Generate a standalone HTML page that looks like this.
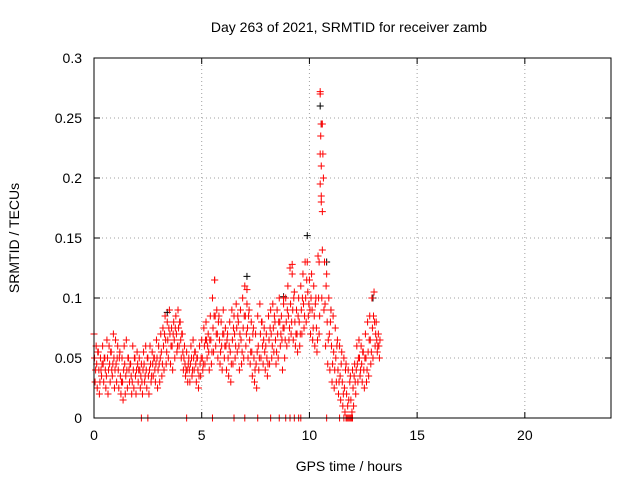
<!DOCTYPE html>
<html><head><meta charset="utf-8"><style>
body{margin:0;background:#fff}
svg{display:block;font-family:"Liberation Sans",sans-serif;font-size:14px}
</style></head><body>
<svg id="chart" width="640" height="480">
<rect x="0" y="0" width="640" height="480" fill="#fff"/>
<text x="349" y="32" text-anchor="middle">Day 263 of 2021, SRMTID for receiver zamb</text>
<text x="349" y="471" text-anchor="middle">GPS time / hours</text>
<text transform="translate(19,238) rotate(-90)" text-anchor="middle">SRMTID / TECUs</text>
<g id="grid"></g>
<g id="ticks"></g>
<g id="marks"></g>
<rect x="94" y="58" width="517" height="360" fill="none" stroke="#000" stroke-width="1"/>
</svg>
<script>
const xTicks=[0,5,10,15,20];
const yTicks=[0,0.05,0.1,0.15,0.2,0.25,0.3];
const yTickLabels=["0","0.05","0.1","0.15","0.2","0.25","0.3"];
const times=[];for(let i=0;i<=132;i++)times.push(+(i*0.1).toFixed(1));
const valsA=[0.07,0.06,0.055,0.05,0.06,0.05,0.065,0.06,0.055,0.07,0.065,
0.06,0.055,0.05,0.06,0.065,0.05,0.045,0.06,0.05,0.055,
0.05,0.045,0.055,0.06,0.05,0.06,0.055,0.05,0.065,0.06,
0.07,0.075,0.085,0.08,0.09,0.075,0.08,0.085,0.09,0.08,
0.07,0.06,0.055,0.05,0.06,0.065,0.055,0.05,0.06,0.065,
0.075,0.08,0.07,0.085,0.1,0.115,0.09,0.085,0.08,0.09,
0.075,0.07,0.08,0.09,0.085,0.095,0.08,0.09,0.1,0.11,
0.095,0.09,0.08,0.075,0.07,0.085,0.095,0.08,0.075,0.07,
0.085,0.09,0.095,0.08,0.09,0.1,0.085,0.095,0.1,0.11,
0.125,0.12,0.105,0.09,0.1,0.11,0.12,0.13,0.13,0.115,
0.12,0.11,0.1,0.135,0.27,0.245,0.13,0.12,0.1,0.09,
0.085,0.075,0.065,0.06,0.055,0.05,0.045,0.04,0.035,0.04,
0.045,0.06,0.065,0.06,0.055,0.07,0.08,0.085,0.1,0.105,
0.08,0.07];
const valsB=[0.03,0.025,0.02,0.035,0.03,0.025,0.02,0.03,0.035,0.025,0.03,
0.025,0.02,0.015,0.02,0.025,0.03,0.02,0.025,0.02,0.03,
0.025,0.02,0.03,0.025,0.02,0.03,0.035,0.03,0.025,0.03,
0.035,0.04,0.045,0.05,0.045,0.04,0.05,0.055,0.06,0.05,
0.04,0.035,0.03,0.03,0.035,0.04,0.03,0.025,0.035,0.04,
0.045,0.05,0.04,0.045,0.055,0.06,0.05,0.045,0.04,0.05,
0.04,0.035,0.03,0.045,0.05,0.055,0.04,0.045,0.05,0.06,
0.05,0.045,0.035,0.03,0.025,0.04,0.05,0.045,0.04,0.035,
0.045,0.05,0.055,0.045,0.05,0.06,0.04,0.05,0.06,0.065,
0.07,0.065,0.06,0.055,0.06,0.07,0.075,0.08,0.085,0.07,
0.065,0.06,0.055,0.07,0.18,0.2,0.06,0.045,0.04,0.03,
0.025,0.03,0.02,0.015,0.01,0.005,0,0,0,0.01,
0.02,0.03,0.035,0.03,0.025,0.03,0.035,0.045,0.05,0.06,
0.055,0.05];
const valsC=[0.05,0.045,0.04,0.04,0.045,0.04,0.05,0.045,0.04,0.05,0.045,
0.04,0.035,0.03,0.045,0.04,0.04,0.035,0.04,0.035,0.045,
0.04,0.03,0.045,0.04,0.035,0.045,0.045,0.04,0.05,0.045,
0.055,0.06,0.065,0.065,0.07,0.06,0.065,0.07,0.075,0.065,
0.055,0.045,0.04,0.04,0.05,0.05,0.045,0.04,0.045,0.05,
0.06,0.065,0.055,0.065,0.075,0.085,0.07,0.065,0.06,0.07,
0.06,0.05,0.055,0.065,0.07,0.075,0.06,0.065,0.075,0.085,
0.075,0.065,0.055,0.05,0.045,0.06,0.07,0.06,0.055,0.05,
0.065,0.07,0.075,0.065,0.07,0.08,0.065,0.075,0.08,0.085,
0.095,0.09,0.08,0.07,0.08,0.09,0.095,0.1,0.105,0.09,
0.09,0.085,0.075,0.1,0.235,0.22,0.095,0.08,0.07,0.06,
0.055,0.05,0.04,0.035,0.03,0.025,0.02,0.015,0.015,0.025,
0.03,0.045,0.05,0.045,0.04,0.05,0.055,0.065,0.075,0.08,
0.065,0.06];
const valsD=[0.04,0.055,0.03,0.045,0.05,0.035,0.04,0.055,0.045,0.04,0.05,
0.05,0.03,0.04,0.035,0.05,0.045,0.03,0.05,0.04,0.04,
0.035,0.04,0.035,0.05,0.04,0.035,0.05,0.045,0.04,0.05,
0.045,0.07,0.055,0.075,0.06,0.07,0.075,0.06,0.08,0.07,
0.05,0.04,0.045,0.045,0.04,0.055,0.05,0.035,0.05,0.045,
0.065,0.06,0.065,0.055,0.085,0.07,0.08,0.055,0.07,0.06,
0.065,0.06,0.045,0.075,0.06,0.085,0.07,0.055,0.085,0.07,
0.085,0.055,0.07,0.04,0.055,0.05,0.08,0.065,0.06,0.045,
0.075,0.06,0.085,0.055,0.08,0.07,0.075,0.065,0.09,0.075,
0.08,0.1,0.07,0.085,0.07,0.1,0.085,0.115,0.095,0.1,
0.075,0.095,0.065,0.085,0.1,0.09,0.11,0.065,0.08,0.045,
0.04,0.06,0.03,0.045,0.02,0.04,0.01,0.03,0.005,0.035,
0.04,0.05,0.04,0.055,0.05,0.04,0.065,0.055,0.085,0.07,
0.06,0.065];
const zeroTimes=[2.2,2.5,4.3,5.5,6.5,7.0,7.6,8.2,8.6,8.9,9.1,9.3,9.5,9.6,10.8,11.4,11.6,11.7,11.8,11.9,12.0];
const extraT=[10.5,10.55,10.5,10.55,10.5,10.55,10.6,10.6,10.45,7.1,5.6,8.8,9.2];
const extraV=[0.272,0.245,0.22,0.21,0.195,0.185,0.172,0.14,0.13,0.107,0.115,0.1,0.128];
const blackT=[9.9,10.5,10.55,10.8,7.1,12.95,3.4,8.8,11.0];
const blackV=[0.152,0.26,0.245,0.13,0.118,0.1,0.088,0.101,0.09];

const X0=94,X1=611,Y0=418,Y1=58;
const sx=t=>X0+t/24*(X1-X0);
const sy=v=>Y0-v/0.3*(Y0-Y1);
const NS="http://www.w3.org/2000/svg";
const grid=document.getElementById('grid'),ticks=document.getElementById('ticks'),marks=document.getElementById('marks');
function mk(tag,attrs,parent){const e=document.createElementNS(NS,tag);for(const k in attrs)e.setAttribute(k,attrs[k]);parent.appendChild(e);return e;}
xTicks.forEach(t=>{const x=sx(t);
 if(t>0){const l=mk('line',{x1:x,x2:x,y1:Y0,y2:Y1,stroke:'#a0a0a0','stroke-dasharray':'1,3'},grid);
 
 }
 mk('line',{x1:x,x2:x,y1:Y0,y2:Y0-6,stroke:'#000'},ticks);
 mk('line',{x1:x,x2:x,y1:Y1,y2:Y1+6,stroke:'#000'},ticks);
 const tx=mk('text',{x:x,y:Y0+22,'text-anchor':'middle'},ticks);tx.textContent=t;
 
 
});
yTicks.forEach((v,i)=>{const y=sy(v);
 if(i>0&&i<yTicks.length-1){const l=mk('line',{x1:X0,x2:X1,y1:y,y2:y,stroke:'#a0a0a0','stroke-dasharray':'1,3'},grid);
 
 }
 mk('line',{x1:X0,x2:X0+6,y1:y,y2:y,stroke:'#000'},ticks);
 mk('line',{x1:X1,x2:X1-6,y1:y,y2:y,stroke:'#000'},ticks);
 const tx=mk('text',{x:X0-12,y:y+5,'text-anchor':'end'},ticks);tx.textContent=yTickLabels[i];
 
 
});
function plus(t,v,color,name){const x=sx(t),y=sy(v);
 const p=mk('path',{d:`M${x-3.5},${y}H${x+3.5}M${x},${y-3.5}V${y+3.5}`,stroke:color,'stroke-width':1,fill:'none'},marks);
 
 }
blackT.forEach((t,i)=>plus(t,blackV[i],'#000','black-point'));
times.forEach((t,i)=>{
 plus(t,valsA[i],'#ff0000','red-point');
 plus(t+0.05,valsB[i],'#ff0000','red-point');
 plus(t+0.025,valsC[i],'#ff0000','red-point');
 plus(t+0.075,valsD[i],'#ff0000','red-point');
});
zeroTimes.forEach(t=>plus(t,0,'#ff0000','red-zero-point'));
extraT.forEach((t,i)=>plus(t,extraV[i],'#ff0000','red-point'));
</script>
</body></html>
